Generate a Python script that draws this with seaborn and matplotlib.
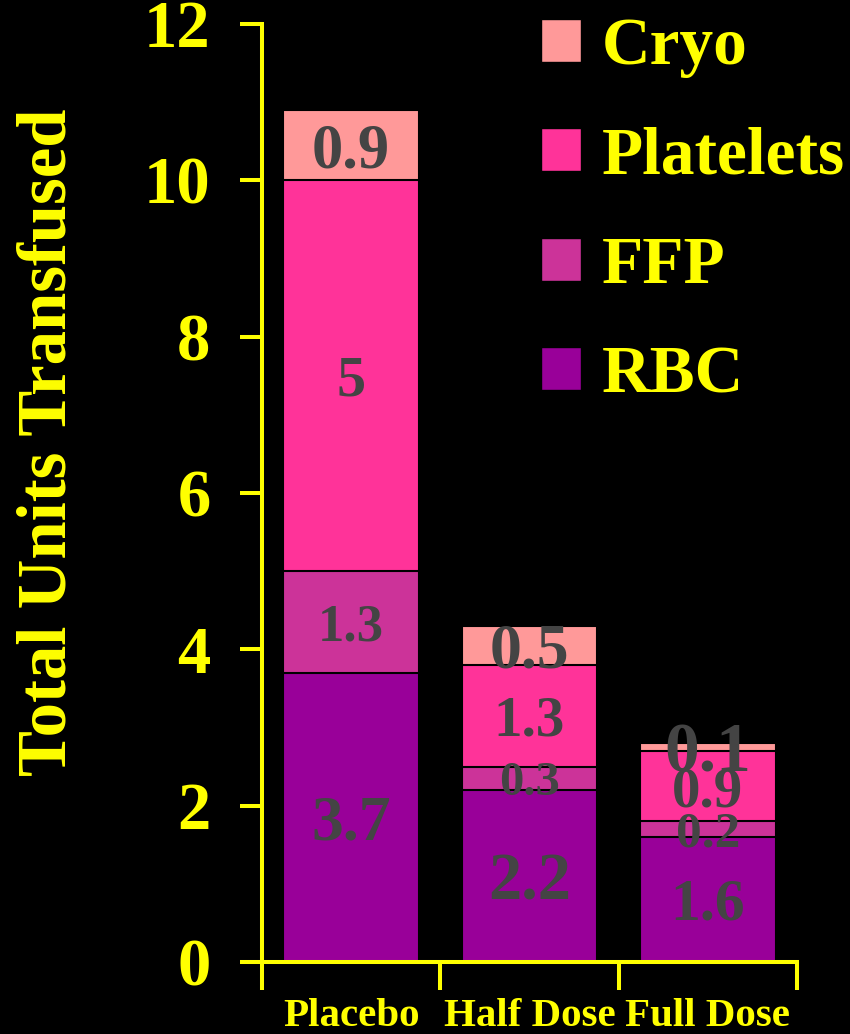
import numpy as np
import matplotlib
matplotlib.use("Agg")
import matplotlib.pyplot as plt
from matplotlib.patches import Patch
from matplotlib.ticker import FixedLocator
import seaborn as sns

# Transfusion components per treatment group
groups = ["Placebo", "Half Dose", "Full Dose"]
rbc = [3.7, 2.2, 1.6]
ffp = [1.3, 0.3, 0.2]
platelets = [5.0, 1.3, 0.9]
cryo = [0.9, 0.5, 0.1]
component_names = ["RBC", "FFP", "Platelets", "Cryo"]
y_ticks = [0, 2, 4, 6, 8, 10, 12]

colors = {"RBC": "#990099", "FFP": "#CC3399", "Platelets": "#FF3399", "Cryo": "#FF9999"}
yellow = "#FFFF00"
label_color = "#444444"
# per-segment text size (rows follow component_names, columns follow groups)
label_sizes = [[46, 48, 43], [38, 35, 37], [42, 41, 41], [45, 46, 50]]

sns.set_style("dark", {"axes.facecolor": "black", "figure.facecolor": "black"})
plt.rcParams["font.family"] = ["Liberation Serif", "DejaVu Serif"]
plt.rcParams["font.weight"] = "bold"

fig = plt.figure(figsize=(8.5, 10.34), dpi=100)
fig.patch.set_facecolor("black")
ax = fig.add_axes([0.3082, 0.0696, 0.9376 - 0.3082, 0.9768 - 0.0696])
ax.set_facecolor("black")

layers = [rbc, ffp, platelets, cryo]
cum = np.cumsum(np.array(layers), axis=0)

# stacked bars: draw cumulative totals from top layer down
for i in range(len(layers) - 1, -1, -1):
    sns.barplot(x=groups, y=cum[i], color=colors[component_names[i]],
                width=0.76, edgecolor="black", linewidth=1.5,
                saturation=1, ax=ax)

# segment value labels
for i, vals in enumerate(layers):
    base = cum[i] - np.array(vals)
    for j, v in enumerate(vals):
        txt = f"{v:g}"
        ax.text(j, base[j] + v / 2, txt, ha="center", va="center_baseline",
                fontsize=label_sizes[i][j], color=label_color, fontweight="bold")

ax.set_xlim(-0.5, 2.5)
ax.set_ylim(0, 12)

for s in ["top", "right"]:
    ax.spines[s].set_visible(False)
for s in ["left", "bottom"]:
    ax.spines[s].set_color(yellow)
    ax.spines[s].set_linewidth(2.9)

ax.set_yticks(y_ticks)
ax.set_yticklabels([str(t) for t in y_ticks])
ax.tick_params(axis="y", direction="out", length=16, width=2.9, color=yellow,
               labelcolor=yellow, labelsize=48, pad=21, left=True)
ax.set_xticks(range(len(groups)))
ax.set_xticklabels(groups)
ax.tick_params(axis="x", which="major", length=0, labelcolor=yellow,
               labelsize=29.5, pad=26, bottom=True)
ax.xaxis.set_minor_locator(FixedLocator([-0.5, 0.5, 1.5, 2.5]))
ax.tick_params(axis="x", which="minor", direction="out", length=20, width=2.9,
               color=yellow, bottom=True)
for lab in ax.get_yticklabels() + ax.get_xticklabels():
    lab.set_fontweight("bold")

ax.set_xlabel("")
ax.set_ylabel("Total Units Transfused", color=yellow, fontsize=49.5,
              fontweight="bold")
ax.yaxis.set_label_coords(-0.34, 0.554)
ax.grid(False)

handles = [Patch(facecolor=colors[n], edgecolor="black", label=n)
           for n in reversed(component_names)]
leg = fig.legend(handles=handles, loc="upper left",
                 bbox_to_anchor=(541 / 850, 1 - 17 / 1034),
                 frameon=False, fontsize=48.5, handlelength=0.6,
                 handleheight=0.6, handletextpad=0.3, labelspacing=0.72,
                 borderpad=0, borderaxespad=0)
for t in leg.get_texts():
    t.set_color(yellow)
    t.set_fontweight("bold")

fig.savefig("out.png", dpi=100, facecolor="black")
